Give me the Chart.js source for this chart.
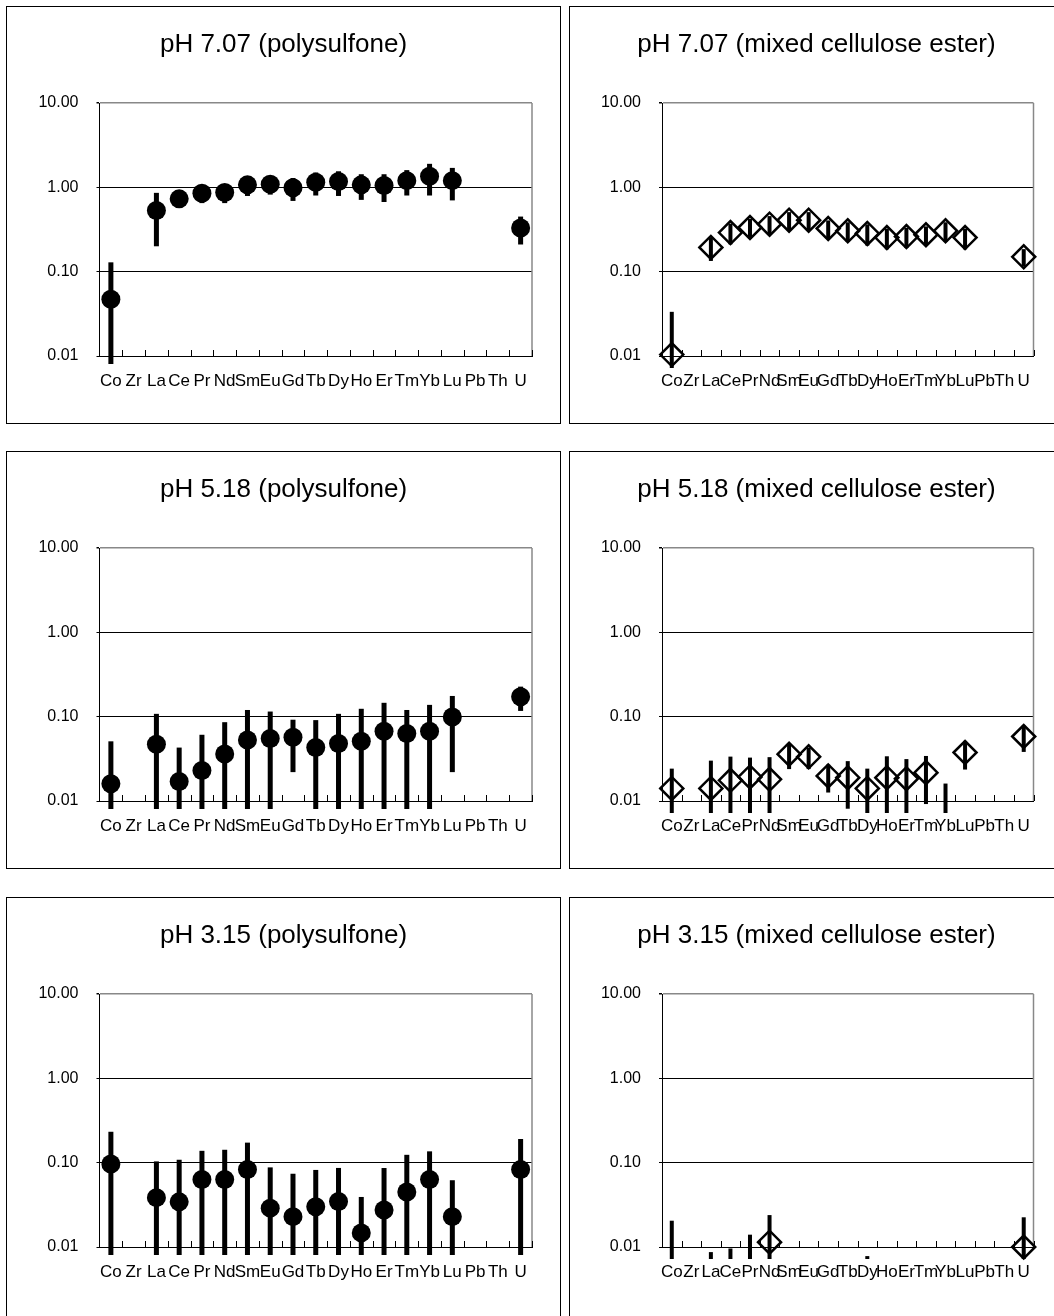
<!DOCTYPE html>
<html>
<head>
<meta charset="utf-8">
<script src="https://cdn.jsdelivr.net/npm/chart.js@4.4.1/dist/chart.umd.min.js"></script>
<style>
html, body { margin: 0; padding: 0; background: #fff; overflow: hidden; width: 1054px; height: 1316px; }
.panel { position: absolute; border: 1px solid #000; background: #fff; }
.panel canvas { display: block; }
</style>
</head>
<body>
<div class="panel" style="left:6px;top:6px"><canvas id="c1" width="553" height="416"></canvas></div>
<div class="panel" style="left:569px;top:6px"><canvas id="c2" width="493" height="416"></canvas></div>
<div class="panel" style="left:6px;top:451px"><canvas id="c3" width="553" height="416"></canvas></div>
<div class="panel" style="left:569px;top:451px"><canvas id="c4" width="493" height="416"></canvas></div>
<div class="panel" style="left:6px;top:897px"><canvas id="c5" width="553" height="425"></canvas></div>
<div class="panel" style="left:569px;top:897px"><canvas id="c6" width="493" height="425"></canvas></div>
<script>
const elements = ["Co", "Zr", "La", "Ce", "Pr", "Nd", "Sm", "Eu", "Gd", "Tb", "Dy", "Ho", "Er", "Tm", "Yb", "Lu", "Pb", "Th", "U"];
const yTicks = [0.01, 0.1, 1, 10];

// pH 7.07
const ps707    = [0.047, null, 0.53, 0.73, 0.85, 0.87, 1.07, 1.09, 0.99, 1.15, 1.17, 1.07, 1.05, 1.20, 1.35, 1.20, null, null, 0.33];
const ps707Err = [0.082, null, 0.33, 0.10, 0.20, 0.22, 0.28, 0.27, 0.30, 0.35, 0.38, 0.36, 0.38, 0.40, 0.55, 0.50, null, null, 0.12];
const mce707    = [0.0104, null, 0.194, 0.291, 0.334, 0.366, 0.408, 0.408, 0.325, 0.305, 0.284, 0.254, 0.261, 0.274, 0.305, 0.254, null, null, 0.150];
const mce707Err = [0.023, null, 0.060, 0.080, 0.090, 0.090, 0.100, 0.100, 0.080, 0.080, 0.080, 0.070, 0.070, 0.070, 0.080, 0.070, null, null, 0.035];

// pH 5.18
const ps518    = [0.016, null, 0.047, 0.017, 0.023, 0.036, 0.053, 0.055, 0.057, 0.043, 0.048, 0.051, 0.067, 0.063, 0.067, 0.099, null, null, 0.172];
const ps518Err = [0.035, null, 0.061, 0.026, 0.038, 0.050, 0.067, 0.060, 0.035, 0.048, 0.060, 0.073, 0.079, 0.057, 0.071, 0.077, null, null, 0.055];
const mce518    = [0.0141, null, 0.0141, 0.0176, 0.0193, 0.0181, 0.0359, 0.0334, 0.0198, 0.0189, 0.0141, 0.0189, 0.0184, 0.0217, 0.006, 0.0376, null, null, 0.0582];
const mce518Err = [0.0101, null, 0.016, 0.016, 0.0134, 0.015, 0.012, 0.0095, 0.0072, 0.0108, 0.0101, 0.015, 0.013, 0.0125, 0.0101, 0.014, null, null, 0.020];

// pH 3.15
const ps315    = [0.0965, null, 0.0385, 0.0343, 0.0632, 0.0632, 0.0828, 0.0289, 0.0229, 0.030, 0.0346, 0.0147, 0.0274, 0.0449, 0.0632, 0.0229, null, null, 0.0828];
const ps315Err = [0.136, null, 0.065, 0.074, 0.075, 0.079, 0.090, 0.059, 0.051, 0.052, 0.052, 0.0245, 0.059, 0.079, 0.073, 0.039, null, null, 0.108];
const mce315    = [0.006, null, 0.004, 0.005, 0.006, 0.0114, null, null, null, null, 0.004, null, null, null, null, null, null, null, 0.010];
const mce315Err = [0.0145, null, 0.0047, 0.0046, 0.008, 0.0125, null, null, null, null, 0.0038, null, null, null, null, null, null, null, 0.0125];

const fontFamily = '"Liberation Sans", Arial, sans-serif';

const panels = [
    { id: "c1", title: "pH 7.07 (polysulfone)", values: ps707, errs: ps707Err, membrane: "ps" },
    { id: "c2", title: "pH 7.07 (mixed cellulose ester)", values: mce707, errs: mce707Err, membrane: "mce" },
    { id: "c3", title: "pH 5.18 (polysulfone)", values: ps518, errs: ps518Err, membrane: "ps" },
    { id: "c4", title: "pH 5.18 (mixed cellulose ester)", values: mce518, errs: mce518Err, membrane: "mce" },
    { id: "c5", title: "pH 3.15 (polysulfone)", values: ps315, errs: ps315Err, membrane: "ps" },
    { id: "c6", title: "pH 3.15 (mixed cellulose ester)", values: mce315, errs: mce315Err, membrane: "mce" }
];

// title centred on the whole panel, not on the plot area
const panelTitle = {
    id: "panelTitle",
    afterDraw(chart, args, opts) {
        let ctx = chart.ctx;
        ctx.save();
        ctx.font = "26px " + fontFamily;
        ctx.fillStyle = "#000";
        ctx.textAlign = "center";
        ctx.textBaseline = "middle";
        ctx.fillText(opts.text, chart.width / 2, opts.y);
        ctx.restore();
    }
};

// grey right edge and the small inside tick marks between categories
const plotFrame = {
    id: "plotFrame",
    beforeDatasetsDraw(chart) {
        let ctx = chart.ctx;
        let a = chart.chartArea;
        let xs = chart.scales.x;
        let step = (a.right - a.left) / elements.length;
        ctx.save();
        ctx.strokeStyle = "#888";
        ctx.lineWidth = 1.5;
        ctx.beginPath();
        ctx.moveTo(a.right, a.top);
        ctx.lineTo(a.right, a.bottom);
        ctx.stroke();
        ctx.strokeStyle = "#000";
        ctx.lineWidth = 1;
        ctx.beginPath();
        for (let i = 0; i < elements.length; i++) {
            let x = Math.round(xs.getPixelForValue(i) + step / 2) + 0.5;
            ctx.moveTo(x, a.bottom);
            ctx.lineTo(x, a.bottom - 6);
        }
        ctx.stroke();
        ctx.restore();
    }
};

// symmetric error bars, cut a little below the axis like the original
const errorBars = {
    id: "errorBars",
    beforeDatasetsDraw(chart, args, opts) {
        let ctx = chart.ctx;
        let a = chart.chartArea;
        let ys = chart.scales.y;
        let meta = chart.getDatasetMeta(0);
        let values = chart.data.datasets[0].data;
        let floor = a.bottom + opts.below;
        ctx.save();
        ctx.fillStyle = "#000";
        values.forEach((v, i) => {
            let e = opts.errs[i];
            if (v == null || e == null) return;
            let x = meta.data[i].x;
            let top = Math.max(ys.getPixelForValue(v + e), a.top);
            let bottom = v - e > 0 ? Math.min(ys.getPixelForValue(v - e), floor) : floor;
            if (bottom <= top) return;
            ctx.fillRect(x - opts.width / 2, top, opts.width, bottom - top);
        });
        ctx.restore();
    }
};

function makeChart(p) {
    let canvas = document.getElementById(p.id);
    let isPs = p.membrane === "ps";
    let yWidth = isPs ? 92.5 : 92;
    let rightPad = canvas.width - yWidth - (isPs ? 432.5 : 371.5);
    let bottomPad = canvas.height - 416;

    return new Chart(canvas.getContext("2d"), {
        type: "line",
        data: {
            labels: elements,
            datasets: [{
                data: p.values,
                showLine: false,
                clip: false,
                pointStyle: isPs ? "circle" : "rectRot",
                pointRadius: isPs ? 9.5 : 11.5,
                pointHoverRadius: isPs ? 9.5 : 11.5,
                pointBackgroundColor: isPs ? "#000" : "rgba(0,0,0,0)",
                pointBorderColor: "#000",
                pointBorderWidth: isPs ? 0 : 2.5
            }]
        },
        options: {
            responsive: false,
            animation: false,
            events: [],
            layout: { padding: { top: 96, right: rightPad, bottom: bottomPad, left: 0 } },
            plugins: {
                legend: { display: false },
                tooltip: { enabled: false },
                panelTitle: { text: p.title, y: 38 },
                errorBars: { errs: p.errs, width: isPs ? 5 : 4, below: isPs ? 8 : 12 }
            },
            scales: {
                x: {
                    type: "category",
                    offset: true,
                    grid: { display: true, offset: true, drawOnChartArea: false, drawTicks: false },
                    border: { color: "#000", width: 1 },
                    ticks: {
                        color: "#000",
                        font: { size: 17, family: fontFamily },
                        padding: 15,
                        autoSkip: false,
                        maxRotation: 0,
                        minRotation: 0
                    },
                    afterFit: s => { s.height = 67; }
                },
                y: {
                    type: "logarithmic",
                    min: yTicks[0],
                    max: yTicks[yTicks.length - 1],
                    afterBuildTicks: s => { s.ticks = yTicks.map(v => ({ value: v })); },
                    afterFit: s => { s.width = yWidth; },
                    grid: {
                        color: c => (c.tick && c.tick.value === 10 ? "#888" : "#000"),
                        lineWidth: c => (c.tick && c.tick.value === 10 ? 1.5 : 1),
                        tickColor: "#000",
                        tickLength: 3
                    },
                    border: { color: "#000", width: 1 },
                    ticks: {
                        color: "#000",
                        font: { size: 16, family: fontFamily },
                        padding: 18,
                        callback: v => Number(v).toFixed(2)
                    }
                }
            }
        },
        plugins: [plotFrame, errorBars, panelTitle]
    });
}

panels.forEach(makeChart);
</script>
</body>
</html>
